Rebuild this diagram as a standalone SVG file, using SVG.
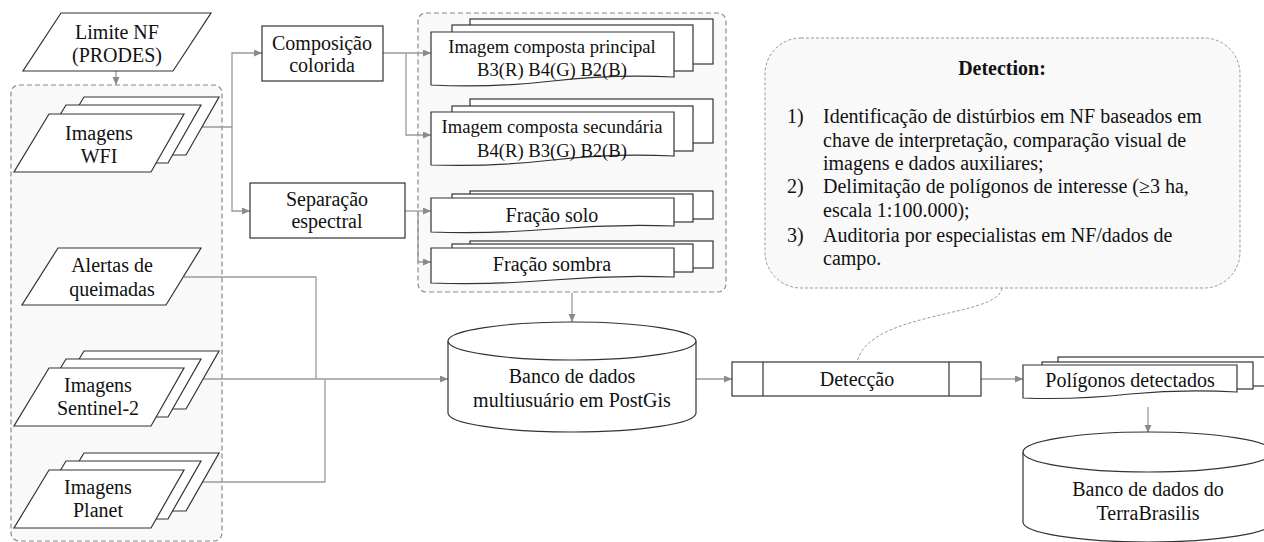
<svg xmlns="http://www.w3.org/2000/svg" width="1264" height="542" viewBox="0 0 1264 542">
<defs>
<marker id="arr" markerWidth="9" markerHeight="8" refX="8" refY="3.5" orient="auto" markerUnits="userSpaceOnUse">
<path d="M0,0 L8,3.5 L0,7 Z" fill="#8a8a8a"/>
</marker>
<style>
.sh{fill:#fff;stroke:#333;stroke-width:1.2}
.grp{fill:#f9f9f9;stroke:#8a8a8a;stroke-width:1.2;stroke-dasharray:5 3}
.call{fill:#f9f9f9;stroke:#999;stroke-width:1;stroke-dasharray:3 2}
.c{fill:none;stroke:#9a9a9a;stroke-width:1.3}
.ca{fill:none;stroke:#9a9a9a;stroke-width:1.3;marker-end:url(#arr)}
.dc{fill:none;stroke:#999;stroke-width:1;stroke-dasharray:3 2}
text{font-family:"Liberation Serif","Times New Roman",Times,serif;font-size:20px;fill:#111}
.m{text-anchor:middle}
.b{font-weight:bold}
.s{font-size:18.6px}
</style>
</defs>
<rect width="1264" height="542" fill="#fff"/>

<g id="group-inputs"><rect class="grp" x="11" y="85" width="211" height="456" rx="8"/></g>
<g id="group-products"><rect class="grp" x="418" y="13" width="308" height="279" rx="8"/></g>

<g id="callout-detection">
<rect class="call" x="765" y="38" width="475" height="250" rx="36"/>
<text class="m b" x="1002" y="75">Detection:</text>
<text x="787" y="123">1)</text><text x="823" y="123">Identificação de distúrbios em NF baseados em</text>
<text x="823" y="147">chave de interpretação, comparação visual de</text>
<text x="823" y="170">imagens e dados auxiliares;</text>
<text x="787" y="193">2)</text><text x="823" y="193">Delimitação de polígonos de interesse (≥3 ha,</text>
<text x="823" y="217">escala 1:100.000);</text>
<text x="787" y="242">3)</text><text x="823" y="242">Auditoria por especialistas em NF/dados de</text>
<text x="823" y="265">campo.</text>
</g>

<g id="connectors">
<path class="ca" d="M116,71 V85"/>
<path class="ca" d="M202,127 H232 V53 H262"/>
<path class="ca" d="M232,127 V211 H250"/>
<path class="ca" d="M383,53 H431"/>
<path class="ca" d="M406,53 V135 H431"/>
<path class="ca" d="M405,211 H431"/>
<path class="ca" d="M418,211 V262 H431"/>
<path class="ca" d="M572,293 V322"/>
<path class="c" d="M184,277 H316 V379"/>
<path class="c" d="M202,482 H325 V379"/>
<path class="ca" d="M202,379 H448"/>
<path class="ca" d="M696,379 H732"/>
<path class="ca" d="M981,379 H1023"/>
<path class="ca" d="M1148,407 V433"/>
<path class="dc" d="M1002,288 C998,318 870,310 857,362"/>
</g>

<g id="limite-nf">
<polygon class="sh" points="61,13 211,13 173,71 23,71"/>
<text class="m" x="117" y="39">Limite NF</text>
<text class="m" x="117" y="62">(PRODES)</text>
</g>

<g id="imagens-wfi">
<polygon class="sh" points="84,97 219,97 186,155 49,155"/>
<polygon class="sh" points="66,105 201,105 168,163 31,163"/>
<polygon class="sh" points="49,114 184,114 151,172 14,172"/>
<text class="m" x="99" y="140">Imagens</text>
<text class="m" x="99" y="163">WFI</text>
</g>

<g id="alertas">
<polygon class="sh" points="58,248 201,248 166,305 22,305"/>
<text class="m" x="112" y="272">Alertas de</text>
<text class="m" x="112" y="296">queimadas</text>
</g>

<g id="imagens-sentinel">
<polygon class="sh" points="84,351 219,351 186,409 49,409"/>
<polygon class="sh" points="66,359 201,359 168,417 31,417"/>
<polygon class="sh" points="49,368 184,368 151,426 14,426"/>
<text class="m" x="98" y="392">Imagens</text>
<text class="m" x="98" y="415">Sentinel-2</text>
</g>

<g id="imagens-planet">
<polygon class="sh" points="84,453 219,453 186,511 49,511"/>
<polygon class="sh" points="66,461 201,461 168,519 31,519"/>
<polygon class="sh" points="49,470 184,470 151,528 14,528"/>
<text class="m" x="98" y="494">Imagens</text>
<text class="m" x="98" y="517">Planet</text>
</g>

<g id="composicao">
<rect class="sh" x="262" y="26" width="121" height="55"/>
<text class="m" x="322" y="50">Composição</text>
<text class="m" x="322" y="72">colorida</text>
</g>

<g id="separacao">
<rect class="sh" x="250" y="183" width="155" height="55"/>
<text class="m" x="327" y="206">Separação</text>
<text class="m" x="327" y="228">espectral</text>
</g>

<g id="img-principal">
<rect class="sh" x="470" y="19" width="243" height="45"/>
<rect class="sh" x="452" y="25" width="241" height="46"/>
<path class="sh" d="M431,32 H674 V77 Q613,74 552.5,81 Q492,88 431,85 Z"/>
<text class="m s" x="552" y="53">Imagem composta principal</text>
<text class="m s" x="552" y="76">B3(R) B4(G) B2(B)</text>
</g>

<g id="img-secundaria">
<rect class="sh" x="470" y="99" width="243" height="44"/>
<rect class="sh" x="452" y="106" width="241" height="45"/>
<path class="sh" d="M431,112 H674 V156 Q613,153 552.5,160 Q492,167 431,165 Z"/>
<text class="m s" x="552" y="133">Imagem composta secundária</text>
<text class="m s" x="552" y="157">B4(R) B3(G) B2(B)</text>
</g>

<g id="fracao-solo">
<rect class="sh" x="470" y="191" width="243" height="28"/>
<rect class="sh" x="452" y="194" width="241" height="28"/>
<path class="sh" d="M431,198 H674 V226 Q613,224 552.5,229 Q492,234 431,232 Z"/>
<text class="m" x="552" y="222">Fração solo</text>
</g>

<g id="fracao-sombra">
<rect class="sh" x="470" y="241" width="243" height="27"/>
<rect class="sh" x="452" y="244" width="241" height="28"/>
<path class="sh" d="M431,248 H674 V277 Q613,275 552.5,280 Q492,285 431,283 Z"/>
<text class="m" x="552" y="271">Fração sombra</text>
</g>

<g id="banco-postgis">
<path class="sh" d="M448,341 A124,19 0 0 1 696,341 V413 A124,19 0 0 1 448,413 Z"/>
<path class="sh" d="M448,341 A124,19 0 0 0 696,341" fill="none"/>
<text class="m" x="572" y="383">Banco de dados</text>
<text class="m" x="572" y="407">multiusuário em PostGis</text>
</g>

<g id="deteccao">
<rect class="sh" x="732" y="362" width="249" height="34"/>
<line class="sh" x1="763" y1="362" x2="763" y2="396"/>
<line class="sh" x1="949" y1="362" x2="949" y2="396"/>
<text class="m" x="857" y="386">Detecção</text>
</g>

<g id="poligonos">
<rect class="sh" x="1058" y="357" width="214" height="29"/>
<rect class="sh" x="1042" y="362" width="211" height="27"/>
<path class="sh" d="M1023,365 H1237 V392 Q1183,389 1130,394 Q1076,400 1023,398 Z"/>
<text class="m" x="1130" y="387">Polígonos detectados</text>
</g>

<g id="banco-terrabrasilis">
<path class="sh" d="M1023,452 A125,20 0 0 1 1273,452 V522 A125,20 0 0 1 1023,522 Z"/>
<path class="sh" d="M1023,452 A125,20 0 0 0 1273,452" fill="none"/>
<text class="m" x="1148" y="496">Banco de dados do</text>
<text class="m" x="1148" y="520">TerraBrasilis</text>
</g>
</svg>
